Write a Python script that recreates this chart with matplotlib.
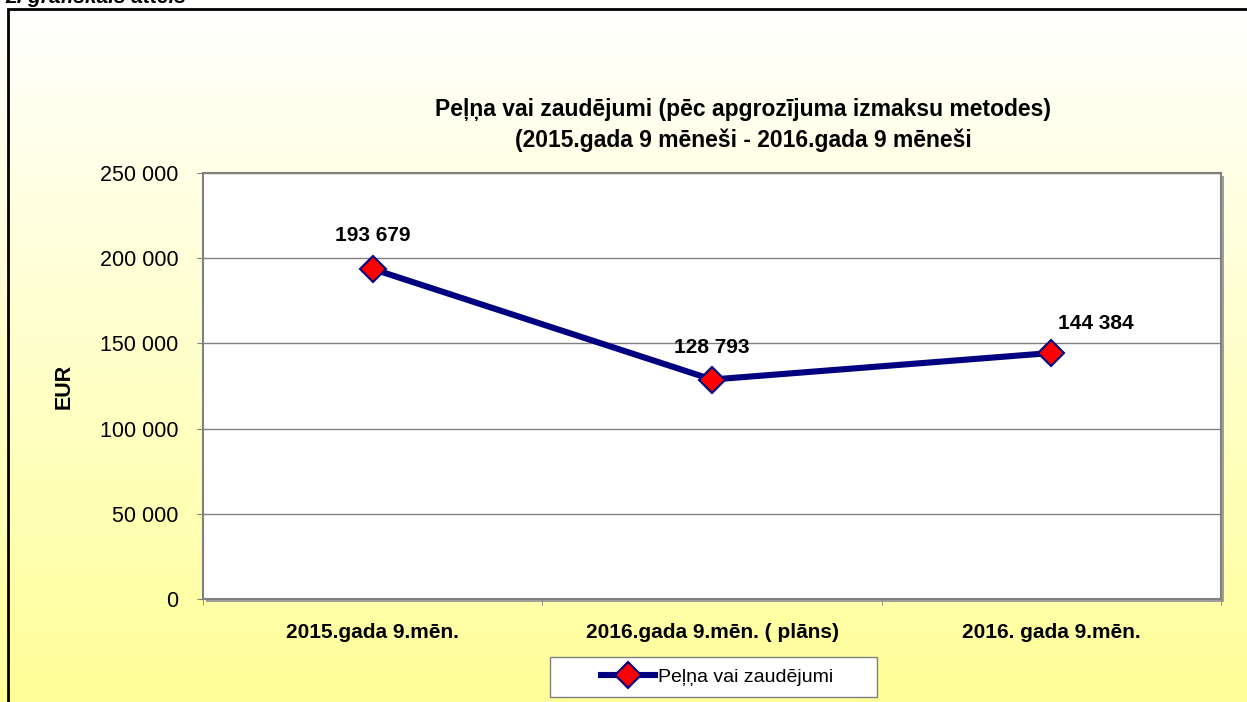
import numpy as np
import matplotlib
matplotlib.use("Agg")
import matplotlib.pyplot as plt
from matplotlib.colors import LinearSegmentedColormap
from matplotlib.patches import Rectangle
from matplotlib.ticker import FuncFormatter, MultipleLocator

plt.rcParams['font.family'] = ['Liberation Sans', 'DejaVu Sans']

# Data
categories = ["2015.gada 9.mēn.", "2016.gada 9.mēn. ( plāns)", "2016. gada 9.mēn."]
values = [193679, 128793, 144384]
series_name = "Peļņa vai zaudējumi"
title = "Peļņa vai zaudējumi (pēc apgrozījuma izmaksu metodes)\n(2015.gada 9 mēneši - 2016.gada 9 mēneši"

W, H = 1247, 702
fig = plt.figure(figsize=(W / 100, H / 100), dpi=100)
fig.patch.set_facecolor("white")

# yellow gradient background of the chart area
bg = fig.add_axes([0, 0, 1, 1], zorder=-10)
grad = np.linspace(0, 1, 256).reshape(-1, 1)
cmap = LinearSegmentedColormap.from_list("bg", ["#FFFFFF", "#FFFF99"])
bg.imshow(grad, aspect="auto", cmap=cmap, extent=[0, 1, 0, 1], origin="upper")
bg.set_xlim(0, 1)
bg.set_ylim(0, 1)
bg.axis("off")

# black outer frame (continues past the right / bottom edge)
fig.patches.append(Rectangle((8 / W, -0.05), 1.2, 1 - 9 / H + 0.05, transform=fig.transFigure,
                             fill=False, edgecolor="black", linewidth=2, zorder=5))
fig.text(0.004, 1 - 3 / H, "2. grafiskais attēls", fontsize=15, fontweight="bold",
         fontstyle="italic", va="baseline", ha="left")

# plot area
ax = fig.add_axes([203 / W, 103 / H, 1018 / W, 426 / H])
ax.set_facecolor("white")

# shadow of plot area
fig.patches.append(Rectangle((206 / W, 100 / H), 1018 / W, 426 / H, transform=fig.transFigure,
                             facecolor="#A0A0A0", edgecolor="none", zorder=0.5))
ax.set_zorder(1)

x = np.arange(len(categories))
line, = ax.plot(x, values, color="#000080", linewidth=4.4, marker="D", markersize=13,
                markerfacecolor="red", markeredgecolor="#000080", markeredgewidth=1.5,
                label=series_name, zorder=3)

label_offsets = [(0, 24), (0, 23), (32, 21)]
for xi, v, off in zip(x, values, label_offsets):
    ax.annotate(f"{v:,}".replace(",", " "), (xi, v), xytext=off, textcoords="offset points",
                ha="center", va="center", fontsize=15, fontweight="bold")

ax.set_xlim(-0.5, len(categories) - 0.5)
ax.set_ylim(0, 250000)
ax.yaxis.set_major_locator(MultipleLocator(50000))
ax.yaxis.set_major_formatter(FuncFormatter(lambda v, p: f"{int(v):,}".replace(",", " ")))
ax.grid(axis="y", color="#808080", linewidth=1)
ax.set_axisbelow(True)

ax.set_xticks(x)
ax.set_xticklabels(categories, fontsize=15, fontweight="bold")
ax.set_xticks(np.arange(-0.5, len(categories)), minor=True)
ax.tick_params(axis="x", which="major", length=0, pad=17)
ax.tick_params(axis="x", which="minor", length=4, color="#808080", direction="out")
ax.tick_params(axis="y", labelsize=15.5, length=4.5, color="#808080", pad=13)

for s in ax.spines.values():
    s.set_color("#808080")
    s.set_linewidth(1.5)

ax.set_ylabel("EUR", fontsize=15.5, fontweight="bold", labelpad=18)

fig.text(743 / W, 1 - 125 / H, title, ha="center", va="center", fontsize=16.5,
         fontweight="bold", linespacing=1.45)

# legend box drawn like the spreadsheet one, wider than its content
fig.patches.append(Rectangle((550 / W, 1 - 697 / H), 327 / W, 40 / H, transform=fig.transFigure,
                             facecolor="white", edgecolor="#808080", linewidth=1, zorder=2))
leg = fig.legend(handles=[line], loc="center", bbox_to_anchor=(717 / W, 1 - 677 / H),
                 fontsize=14, frameon=False, handlelength=2.8, handletextpad=0.15,
                 borderpad=0, borderaxespad=0)
leg.set_zorder(3)

fig.savefig("out.png", dpi=100)
